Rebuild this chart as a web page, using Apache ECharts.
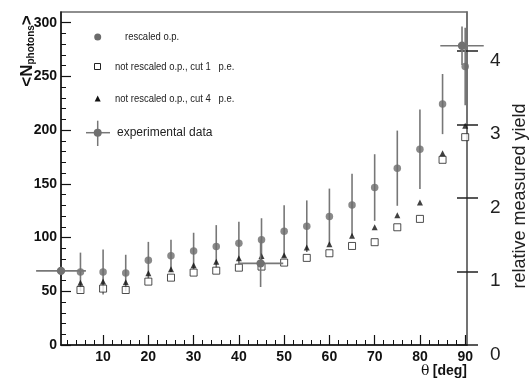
<!DOCTYPE html>
<html>
<head>
<meta charset="utf-8">
<script src="https://cdn.jsdelivr.net/npm/echarts@6/dist/echarts.min.js"></script>
<style>
  html, body { margin: 0; padding: 0; background: #fff; }
  #chart { width: 529px; height: 383px; }
</style>
</head>
<body>
<div id="chart"></div>
<script>
// angles of the simulated points (deg)
var angles = [5, 10, 15, 20, 25, 30, 35, 40, 45, 50, 55, 60, 65, 70, 75, 80, 85, 90];
// rescaled o.p. and its error
var rescaled    = [68, 68, 67, 79, 83, 87.5, 91.6, 94.7, 98, 106, 110.6, 119.6, 130.4, 146.6, 164.6, 182.3, 224.3, 259.3];
var rescaledErr = [18, 21, 17, 17, 15, 17, 20, 20, 20, 24, 24, 26, 29, 31, 35, 37, 28, 36];
// not rescaled o.p.
var cut1 = [51.2, 52.5, 51.2, 59, 62.7, 67.4, 69.2, 72, 73, 76.7, 81.1, 85.4, 92.2, 95.7, 109.6, 117.4, 172.4, 193.5];
var cut4 = [58, 59, 58.4, 66.8, 70.5, 74.2, 77.6, 80.8, 82.9, 83.5, 90.7, 93.8, 101.8, 109.6, 120.8, 132.6, 178.6, 204];
// experimental data
var expAngles   = [0.7, 44.8, 89.3];
var expValues   = [69, 76, 278.6];
var expAngleErr = [5.5, 5, 4.8];
var expValueErr = [0, 22, 18];

// tick labels
var xLabels = [10, 20, 30, 40, 50, 60, 70, 80, 90];
var xMinor  = [2, 4, 6, 8, 12, 14, 16, 18, 22, 24, 26, 28, 32, 34, 36, 38, 42, 44, 46, 48,
               52, 54, 56, 58, 62, 64, 66, 68, 72, 74, 76, 78, 82, 84, 86, 88];
var yLabels = [0, 50, 100, 150, 200, 250, 300];
var yMinor  = [10, 20, 30, 40, 60, 70, 80, 90, 110, 120, 130, 140, 160, 170, 180, 190,
               210, 220, 230, 240, 260, 270, 280, 290];
var relLabels = [0, 1, 2, 3, 4];

function relativeYield(divId) {

    var dom = document.getElementById(divId);
    var chart = echarts.getInstanceByDom(dom);
    if(chart == '' || chart == undefined || chart == null) {
        chart = echarts.init(dom);
    }else {
        chart.clear();
    }

    var labelFont = {fontSize: 14, fontWeight: 'bold', color: '#111', fontFamily: 'Liberation Sans, Arial, sans-serif'};
    var legendFont = 'Liberation Sans, Arial';

    var errData = [];
    for(var i = 0;i < angles.length;i++) {
        errData.push([angles[i], rescaled[i] - rescaledErr[i], rescaled[i] + rescaledErr[i]]);
    }
    var expData = [];
    for(var i = 0;i < expAngles.length;i++) {
        expData.push([expAngles[i], expValues[i], expAngleErr[i], expValueErr[i]]);
    }
    function pairs(ys) {
        var out = [];
        for(var i = 0;i < angles.length;i++) out.push([angles[i], ys[i]]);
        return out;
    }

    var option = {
        backgroundColor: 'white',
        animation: false,
        grid: {
            left: 61, right: 62, top: 12, bottom: 38,
            show: true, borderColor: '#6a6a6a', borderWidth: 1.5
        },
        xAxis: [{
            type: 'value', min: 0.7, max: 90.4,
            axisLine: {lineStyle: {color: '#111', width: 1.5}},
            axisTick: {inside: true, length: 10, customValues: xLabels, lineStyle: {color: '#111', width: 1.2}},
            axisLabel: Object.assign({customValues: xLabels, margin: 5}, labelFont),
            splitLine: {show: false}
        }, {
            type: 'value', min: 0.7, max: 90.4, position: 'bottom',
            axisLine: {show: false},
            axisTick: {inside: true, length: 5, customValues: xMinor, lineStyle: {color: '#111', width: 1}},
            axisLabel: {show: false},
            splitLine: {show: false}
        }],
        yAxis: [{
            type: 'value', min: 0, max: 310, position: 'left',
            axisLine: {show: true, lineStyle: {color: '#111', width: 1.5}},
            axisTick: {show: true, inside: true, length: 10, customValues: yLabels, lineStyle: {color: '#111', width: 1.2}},
            axisLabel: Object.assign({customValues: yLabels, margin: 4}, labelFont),
            splitLine: {show: false}
        }, {
            type: 'value', min: 0, max: 310, position: 'left',
            axisLine: {show: false},
            axisTick: {show: true, inside: true, length: 5, customValues: yMinor, lineStyle: {color: '#111', width: 1}},
            axisLabel: {show: false},
            splitLine: {show: false}
        }, {
            type: 'value', min: 0, max: 4.53, position: 'right',
            axisLine: {show: true, lineStyle: {color: '#6a6a6a', width: 1.5}},
            axisTick: {show: true, length: 11, customValues: relLabels, lineStyle: {color: '#222', width: 1.5}},
            axisLabel: {customValues: relLabels, margin: 23, verticalAlign: 'top', fontSize: 19,
                        color: '#222', fontFamily: 'Liberation Sans, Arial, sans-serif'},
            splitLine: {show: false}
        }, {
            type: 'value', min: 0, max: 4.53, position: 'right',
            axisLine: {show: false},
            axisTick: {show: true, inside: true, length: 10, customValues: relLabels, lineStyle: {color: '#222', width: 1.5}},
            axisLabel: {show: false},
            splitLine: {show: false}
        }],
        graphic: [
            // axis titles
            {type: 'text', x: 27, y: 51, rotation: Math.PI / 2,
             style: {text: '{n|<N}{s|photons}{n|>}', align: 'center', verticalAlign: 'middle',
                     rich: {n: {fontSize: 17, fontWeight: 'bold', fill: '#111', fontFamily: 'Liberation Sans, Arial'},
                            s: {fontSize: 10, fontWeight: 'bold', fill: '#111', fontFamily: 'Liberation Sans, Arial', padding: [9, 0, 0, 0]}}}},
            {type: 'text', x: 467, y: 371,
             style: {text: '{t|θ} {d|[deg]}', align: 'right', verticalAlign: 'middle',
                     rich: {t: {fontSize: 14, fill: '#111', fontFamily: 'DejaVu Serif, serif'},
                            d: {fontSize: 14, fontWeight: 'bold', fill: '#111', fontFamily: 'Liberation Sans, Arial'}}}},
            {type: 'text', x: 520, y: 196, rotation: Math.PI / 2,
             style: {text: 'relative measured yield', align: 'center', verticalAlign: 'middle',
                     fontSize: 18, fill: '#222', fontFamily: 'Liberation Sans, Arial'}},
            // legend
            {type: 'circle', shape: {cx: 97.7, cy: 37, r: 3.5}, style: {fill: '#6b6b6b'}},
            {type: 'text', x: 125, y: 37, scaleX: 0.86,
             style: {text: 'rescaled o.p.', verticalAlign: 'middle', fontSize: 11, fill: '#222', fontFamily: legendFont}},
            {type: 'rect', shape: {x: 94.5, y: 63.5, width: 6, height: 6}, style: {fill: '#fff', stroke: '#222', lineWidth: 1}},
            {type: 'text', x: 115, y: 67, scaleX: 0.86,
             style: {text: 'not rescaled o.p., cut 1   p.e.', verticalAlign: 'middle', fontSize: 11, fill: '#222', fontFamily: legendFont}},
            {type: 'polygon', shape: {points: [[97.7, 95.5], [100.7, 101.5], [94.7, 101.5]]}, style: {fill: '#111'}},
            {type: 'text', x: 115, y: 99, scaleX: 0.86,
             style: {text: 'not rescaled o.p., cut 4   p.e.', verticalAlign: 'middle', fontSize: 11, fill: '#222', fontFamily: legendFont}},
            {type: 'line', shape: {x1: 86, y1: 132.7, x2: 110, y2: 132.7}, style: {stroke: '#777', lineWidth: 1.5}},
            {type: 'line', shape: {x1: 97.7, y1: 120.7, x2: 97.7, y2: 146}, style: {stroke: '#777', lineWidth: 1.5}},
            {type: 'circle', shape: {cx: 97.7, cy: 132.7, r: 4}, style: {fill: '#707070'}},
            {type: 'text', x: 117, y: 133,
             style: {text: 'experimental data', verticalAlign: 'middle', fontSize: 12, fill: '#222', fontFamily: legendFont}}
        ],
        series: [{
            name: 'rescaled error',
            type: 'custom',
            data: errData,
            z: 1,
            renderItem: function (params, api) {
                var lo = api.coord([api.value(0), api.value(1)]);
                var hi = api.coord([api.value(0), api.value(2)]);
                return {type: 'line', shape: {x1: lo[0], y1: lo[1], x2: hi[0], y2: hi[1]},
                        style: {stroke: '#777', lineWidth: 1.6}};
            }
        }, {
            name: 'not rescaled o.p., cut 1 p.e.',
            type: 'scatter',
            data: pairs(cut1),
            symbol: 'rect',
            symbolSize: 7,
            z: 2,
            itemStyle: {color: '#fff', borderColor: '#222', borderWidth: 1}
        }, {
            name: 'not rescaled o.p., cut 4 p.e.',
            type: 'scatter',
            data: pairs(cut4),
            symbol: 'triangle',
            symbolSize: 6,
            z: 3,
            itemStyle: {color: '#111'}
        }, {
            name: 'rescaled o.p.',
            type: 'scatter',
            data: pairs(rescaled),
            symbol: 'circle',
            symbolSize: 7.5,
            z: 4,
            itemStyle: {color: '#6b6b6b'}
        }, {
            name: 'experimental data',
            type: 'custom',
            data: expData,
            z: 5,
            clip: false,
            renderItem: function (params, api) {
                var x = api.value(0), y = api.value(1), ex = api.value(2), ey = api.value(3);
                var c = api.coord([x, y]);
                var l = api.coord([x - ex, y]);
                var r = api.coord([x + ex, y]);
                var b = api.coord([x, y - ey]);
                var t = api.coord([x, y + ey]);
                var lineStyle = {stroke: '#777', lineWidth: 1.6};
                return {type: 'group', children: [
                    {type: 'line', shape: {x1: l[0], y1: l[1], x2: r[0], y2: r[1]}, style: lineStyle},
                    {type: 'line', shape: {x1: b[0], y1: b[1], x2: t[0], y2: t[1]}, style: lineStyle},
                    {type: 'circle', shape: {cx: c[0], cy: c[1], r: 4.2}, style: {fill: '#707070'}}
                ]};
            }
        }]
    };

    chart.setOption(option);
    window.addEventListener("resize", function(e) {
        chart.resize();
    });
}

relativeYield('chart');
</script>
</body>
</html>
